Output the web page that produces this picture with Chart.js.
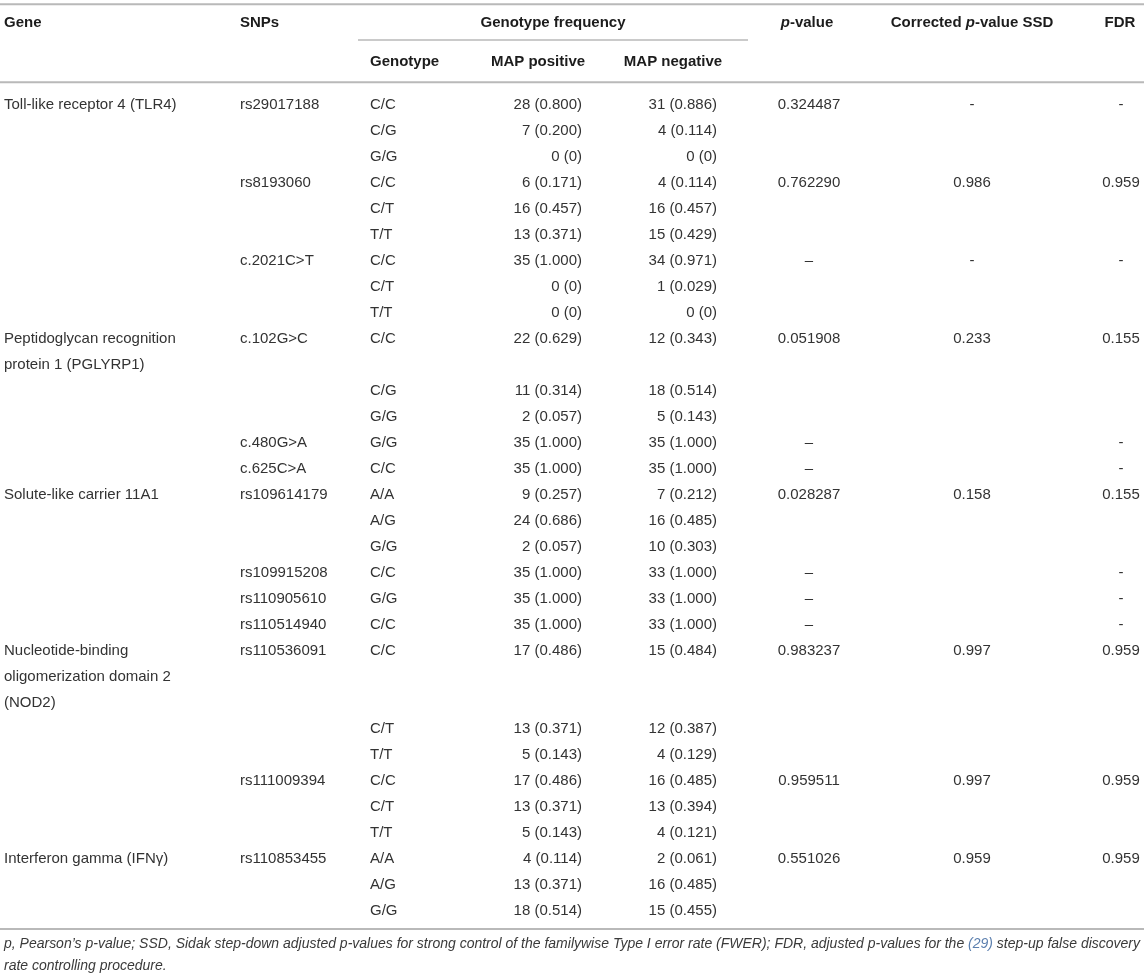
<!DOCTYPE html>
<html>
<head>
<meta charset="utf-8">
<title>Genotype frequency table</title>
<script src="https://cdn.jsdelivr.net/npm/chart.js@4.4.1/dist/chart.umd.min.js"></script>
<style>
  html, body { margin: 0; padding: 0; background: #fff; }
  #wrap { width: 1144px; height: 975px; }
</style>
</head>
<body>
<div id="wrap"><canvas id="tableChart" width="1144" height="975"></canvas></div>
<script>
// Table values
const geneNames = [
    ['Toll-like receptor 4 (TLR4)'],
    ['Peptidoglycan recognition', 'protein 1 (PGLYRP1)'],
    ['Solute-like carrier 11A1'],
    ['Nucleotide-binding', 'oligomerization domain 2', '(NOD2)'],
    ['Interferon gamma (IFN\u03b3)']
];
const snps = ['rs29017188', 'rs8193060', 'c.2021C>T', 'c.102G>C', 'c.480G>A', 'c.625C>A',
    'rs109614179', 'rs109915208', 'rs110905610', 'rs110514940', 'rs110536091', 'rs111009394', 'rs110853455'];
const snpGene = [0, 0, 0, 1, 1, 1, 2, 2, 2, 2, 3, 3, 4];
const genotypes = [
    ['C/C', 'C/G', 'G/G'], ['C/C', 'C/T', 'T/T'], ['C/C', 'C/T', 'T/T'], ['C/C', 'C/G', 'G/G'],
    ['G/G'], ['C/C'], ['A/A', 'A/G', 'G/G'], ['C/C'], ['G/G'], ['C/C'],
    ['C/C', 'C/T', 'T/T'], ['C/C', 'C/T', 'T/T'], ['A/A', 'A/G', 'G/G']
];
const mapPositive = [[28, 7, 0], [6, 16, 13], [35, 0, 0], [22, 11, 2], [35], [35], [9, 24, 2], [35], [35], [35], [17, 13, 5], [17, 13, 5], [4, 13, 18]];
const mapPositiveFreq = [[0.800, 0.200, 0], [0.171, 0.457, 0.371], [1.000, 0, 0], [0.629, 0.314, 0.057], [1.000], [1.000],
    [0.257, 0.686, 0.057], [1.000], [1.000], [1.000], [0.486, 0.371, 0.143], [0.486, 0.371, 0.143], [0.114, 0.371, 0.514]];
const mapNegative = [[31, 4, 0], [4, 16, 15], [34, 1, 0], [12, 18, 5], [35], [35], [7, 16, 10], [33], [33], [33], [15, 12, 4], [16, 13, 4], [2, 16, 15]];
const mapNegativeFreq = [[0.886, 0.114, 0], [0.114, 0.457, 0.429], [0.971, 0.029, 0], [0.343, 0.514, 0.143], [1.000], [1.000],
    [0.212, 0.485, 0.303], [1.000], [1.000], [1.000], [0.484, 0.387, 0.129], [0.485, 0.394, 0.121], [0.061, 0.485, 0.455]];
const pValues = ['0.324487', '0.762290', '\u2013', '0.051908', '\u2013', '\u2013', '0.028287', '\u2013', '\u2013', '\u2013', '0.983237', '0.959511', '0.551026'];
const ssdValues = ['-', '0.986', '-', '0.233', '', '', '0.158', '', '', '', '0.997', '0.997', '0.959'];
const fdrValues = ['-', '0.959', '-', '0.155', '-', '-', '0.155', '-', '-', '-', '0.959', '0.959', '0.959'];

// Layout (pixels / row units)
const columnX = { gene: 4, snp: 240, genotype: 370, mapPos: 582, mapNeg: 717, pval: 809, ssd: 972, fdr: 1121 };
const columnAlign = { gene: 'left', snp: 'left', genotype: 'left', mapPos: 'right', mapNeg: 'right', pval: 'center', ssd: 'center', fdr: 'center' };
const FONT = '"Liberation Sans", Arial, Helvetica, sans-serif';
const BODY_COLOR = '#333333';
const HEAD_COLOR = '#1c1c1c';
const RULE_COLOR = '#b9b9b9';

function fmtFreq(f) {
    return f === 0 ? '0' : f.toFixed(3);
}

// Build cell lists from the arrays
const cells = { gene: [], snp: [], genotype: [], mapPos: [], mapNeg: [], pval: [], ssd: [], fdr: [] };
let row = 0;
let lastGene = -1;
snps.forEach((snp, s) => {
    const g = snpGene[s];
    const firstOfGene = g !== lastGene;
    const extra = firstOfGene ? geneNames[g].length - 1 : 0;
    if (firstOfGene) {
        geneNames[g].forEach((line, li) => cells.gene.push({ x: columnX.gene, y: row + li, text: line }));
        lastGene = g;
    }
    cells.snp.push({ x: columnX.snp, y: row, text: snp });
    cells.pval.push({ x: columnX.pval, y: row, text: pValues[s] });
    cells.ssd.push({ x: columnX.ssd, y: row, text: ssdValues[s] });
    cells.fdr.push({ x: columnX.fdr, y: row, text: fdrValues[s] });
    genotypes[s].forEach((gt, k) => {
        const r = k === 0 ? row : row + k + extra;
        cells.genotype.push({ x: columnX.genotype, y: r, text: gt });
        cells.mapPos.push({ x: columnX.mapPos, y: r, text: mapPositive[s][k] + ' (' + fmtFreq(mapPositiveFreq[s][k]) + ')' });
        cells.mapNeg.push({ x: columnX.mapNeg, y: r, text: mapNegative[s][k] + ' (' + fmtFreq(mapNegativeFreq[s][k]) + ')' });
    });
    row += genotypes[s].length + extra;
});

// header / rule positions in row units
const layout = {
    topRule: -3.88, head1: -3.15, groupRule: -2.5, head2: -1.65, headRule: -0.88,
    bottomRule: 31.69, foot1: 32.27, foot2: 33.12
};

// draw runs of normal / italic text
function drawRich(ctx, parts, x, y, align, size, weight, color) {
    const widths = parts.map(p => {
        ctx.font = (p.italic ? 'italic ' : '') + weight + ' ' + size + 'px ' + FONT;
        return ctx.measureText(p.t).width;
    });
    const total = widths.reduce((a, b) => a + b, 0);
    let cx = align === 'center' ? x - total / 2 : align === 'right' ? x - total : x;
    ctx.textAlign = 'left';
    parts.forEach((p, i) => {
        ctx.font = (p.italic ? 'italic ' : '') + weight + ' ' + size + 'px ' + FONT;
        ctx.fillStyle = p.color || color;
        ctx.fillText(p.t, cx, y);
        cx += widths[i];
    });
}

const tablePlugin = {
    id: 'tableText',
    afterDatasetsDraw(chart) {
        const { ctx, scales: { x, y } } = chart;
        ctx.save();
        ctx.textBaseline = 'middle';

        // rules
        ctx.strokeStyle = RULE_COLOR;
        const rule = (v, x0, x1, w) => {
            ctx.lineWidth = w;
            ctx.beginPath();
            ctx.moveTo(x.getPixelForValue(x0), y.getPixelForValue(v));
            ctx.lineTo(x.getPixelForValue(x1), y.getPixelForValue(v));
            ctx.stroke();
        };
        rule(layout.topRule, 0, 1144, 2);
        rule(layout.groupRule, 358, 748, 1.5);
        rule(layout.headRule, 0, 1144, 2);
        rule(layout.bottomRule, 0, 1144, 2);

        // headers
        const h1 = y.getPixelForValue(layout.head1);
        const h2 = y.getPixelForValue(layout.head2);
        const hd = (parts, px, py, align) => drawRich(ctx, parts, x.getPixelForValue(px), py, align, 15, 'bold', HEAD_COLOR);
        hd([{ t: 'Gene' }], columnX.gene, h1, 'left');
        hd([{ t: 'SNPs' }], columnX.snp, h1, 'left');
        hd([{ t: 'Genotype frequency' }], 553, h1, 'center');
        hd([{ t: 'p', italic: true }, { t: '-value' }], 807, h1, 'center');
        hd([{ t: 'Corrected ' }, { t: 'p', italic: true }, { t: '-value SSD' }], 972, h1, 'center');
        hd([{ t: 'FDR' }], 1120, h1, 'center');
        hd([{ t: 'Genotype' }], columnX.genotype, h2, 'left');
        hd([{ t: 'MAP positive' }], 538, h2, 'center');
        hd([{ t: 'MAP negative' }], 673, h2, 'center');

        // body cells, placed at the points the library laid out
        ctx.font = '15px ' + FONT;
        ctx.fillStyle = BODY_COLOR;
        chart.data.datasets.forEach((ds, i) => {
            const meta = chart.getDatasetMeta(i);
            ctx.textAlign = ds.align;
            meta.data.forEach((pt, j) => {
                ctx.fillText(ds.data[j].text, pt.x, pt.y);
            });
        });

        // footnote, squeezed to the table width
        const foot1 = [
            { t: 'p, Pearson\u2019s p-value; SSD, Sidak step-down adjusted p-values for strong control of the familywise Type I error rate (FWER); FDR, adjusted p-values for the ' },
            { t: '(29)', color: '#5b7fae' },
            { t: ' step-up false discovery' }
        ];
        const fsize = 14;
        ctx.font = 'italic ' + fsize + 'px ' + FONT;
        const w1 = foot1.reduce((a, p) => a + ctx.measureText(p.t).width, 0);
        const squeeze = Math.min(1, 1136 / w1);
        [[foot1, layout.foot1], [[{ t: 'rate controlling procedure.' }], layout.foot2]].forEach(([parts, v]) => {
            ctx.save();
            ctx.translate(4, y.getPixelForValue(v));
            ctx.scale(squeeze, 1);
            parts.forEach(p => { p.italic = true; });
            drawRich(ctx, parts, 0, 0, 'left', fsize, 'normal', '#3a3a3a');
            ctx.restore();
        });
        ctx.restore();
    }
};

const columnKeys = Object.keys(cells);
new Chart(document.getElementById('tableChart'), {
    type: 'scatter',
    data: {
        datasets: columnKeys.map(k => ({
            label: k,
            data: cells[k],
            align: columnAlign[k],
            pointRadius: 0,
            pointHoverRadius: 0
        }))
    },
    options: {
        responsive: false,
        animation: false,
        events: [],
        devicePixelRatio: 1,
        layout: { padding: 0 },
        plugins: { legend: { display: false }, tooltip: { enabled: false } },
        scales: {
            x: { type: 'linear', min: 0, max: 1144, display: false },
            y: { type: 'linear', reverse: true, min: -4.04, max: 33.46, display: false }
        }
    },
    plugins: [tablePlugin]
});
</script>
</body>
</html>
